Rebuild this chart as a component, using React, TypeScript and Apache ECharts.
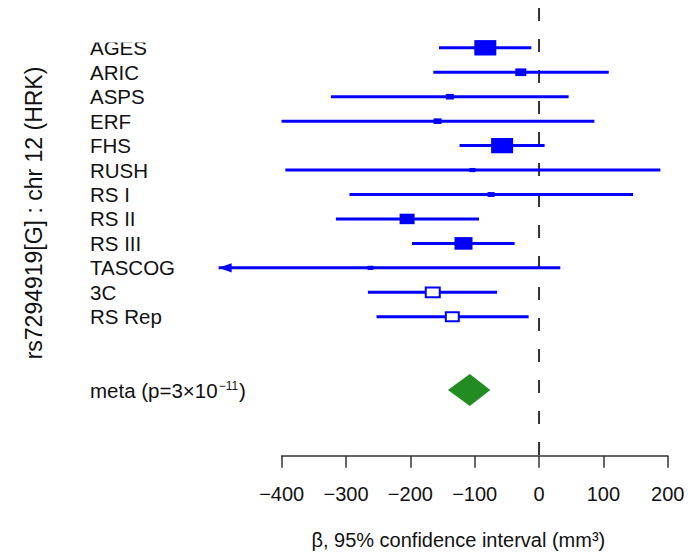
import React, { useEffect, useRef } from 'react';
import * as echarts from 'echarts';

// ---- data ----
const studies = ['AGES', 'ARIC', 'ASPS', 'ERF', 'FHS', 'RUSH', 'RS I', 'RS II', 'RS III', 'TASCOG', '3C', 'RS Rep'];
const estimates = [-83.5, -28.3, -138.7, -157.7, -57.4, -103.4, -74.5, -205.1, -117.4, -262, -165.2, -134.8];
const lowerCI = [-155.5, -164.3, -323.5, -400.3, -123.5, -394.3, -294.7, -315.7, -197.5, -498, -266, -252.6];
const upperCI = [-12, 108.4, 46, 86, 8.7, 188.6, 146.2, -93.3, -38, 33.1, -65.3, -16.2];
const boxWeights = [22, 11, 8, 8, 22, 6, 7, 15, 18, 6, 14, 13];
const replication = [false, false, false, false, false, false, false, false, false, false, true, true];
const clippedLow = [false, false, false, false, false, false, false, false, false, true, false, false];
const metaEstimate = -107.6;
const metaLower = -141.6;
const metaUpper = -75.7;
const metaRow = 14;
const xTicks = [-400, -300, -200, -100, 0, 100, 200];

const FONT = '"Liberation Sans", Arial, Helvetica, sans-serif';
const BLUE = '#0000ff';

export default function App() {
  const ref = useRef<HTMLDivElement>(null);

  useEffect(() => {
    const chart = echarts.init(ref.current!, null, { renderer: 'svg' });
    const studyRows = studies.map((_, i) => i);
    const studyData = studies.map((_, i) => [
      studyRows[i], estimates[i], lowerCI[i], upperCI[i], boxWeights[i],
      replication[i] ? 1 : 0, clippedLow[i] ? 1 : 0,
    ]);
    const yTop = -1.628;
    const yBottom = 16.683;

    const renderStudy = (_p: any, api: any) => {
      const row = api.value(0);
      const [xe, y] = api.coord([api.value(1), row]);
      const [xl] = api.coord([api.value(2), row]);
      const [xh] = api.coord([api.value(3), row]);
      const bw = api.value(4);
      const bh = bw * 0.7;
      const open = api.value(5) === 1;
      const arrow = api.value(6) === 1;
      const children: any[] = [
        { type: 'line', shape: { x1: xl, y1: y, x2: xh, y2: y }, style: { stroke: BLUE, lineWidth: 3 } },
      ];
      if (arrow) {
        children.push({
          type: 'polygon',
          shape: { points: [[xl, y], [xl + 13, y - 4.7], [xl + 13, y + 4.7]] },
          style: { fill: BLUE },
        });
      }
      children.push({
        type: 'rect',
        shape: { x: xe - bw / 2, y: y - bh / 2, width: bw, height: bh },
        style: open ? { fill: '#ffffff', stroke: BLUE, lineWidth: 2 } : { fill: BLUE },
      });
      return { type: 'group', children };
    };

    const renderMeta = (_p: any, api: any) => {
      const row = api.value(0);
      const [xe, y] = api.coord([api.value(1), row]);
      const [xl] = api.coord([api.value(2), row]);
      const [xh] = api.coord([api.value(3), row]);
      const h = 16;
      return {
        type: 'polygon',
        shape: { points: [[xl, y], [xe, y - h], [xh, y], [xe, y + h]] },
        style: { fill: '#228b22' },
      };
    };

    const renderZero = (_p: any, api: any) => {
      const a = api.coord([api.value(0), api.value(1)]);
      const b = api.coord([api.value(0), api.value(2)]);
      return {
        type: 'line',
        shape: { x1: a[0], y1: a[1], x2: b[0], y2: b[1] },
        style: { stroke: '#333333', lineWidth: 2, lineDash: [13, 18] },
      };
    };

    const option: any = {
      animation: false,
      backgroundColor: '#ffffff',
      textStyle: { fontFamily: FONT },
      grid: { left: 281.7, right: 32.3, top: 8, bottom: 100.3, containLabel: false, outerBoundsMode: 'none' },
      xAxis: {
        type: 'value',
        position: 'bottom',
        min: xTicks[0],
        max: xTicks[xTicks.length - 1],
        interval: 100,
        splitLine: { show: false },
        axisLine: { show: true, onZero: false, lineStyle: { color: '#333333', width: 1.5 } },
        axisTick: { show: true, length: 12, lineStyle: { color: '#333333', width: 1.5 } },
        axisLabel: {
          margin: 28,
          fontSize: 20,
          fontFamily: FONT,
          color: '#111111',
          formatter: (v: number) => (v < 0 ? '\u2212' + Math.abs(v) : String(v)),
        },
      },
      yAxis: {
        type: 'value',
        inverse: true,
        min: yTop,
        max: yBottom,
        splitLine: { show: false },
        axisLine: { show: false, onZero: false },
        axisTick: { show: false },
        axisLabel: {
          customValues: [...studyRows, metaRow],
          align: 'left',
          margin: 281.7 - 90,
          fontSize: 20.5,
          fontFamily: FONT,
          color: '#111111',
          formatter: (v: number) => (v === metaRow ? 'meta (p=3\u00d710{sup|\u221211})' : studies[v]),
          rich: {
            sup: { fontSize: 12, fontFamily: FONT, color: '#111111', verticalAlign: 'top', padding: [0, 1, 0, 1] },
          },
        },
      },
      graphic: [
        { type: 'rect', z: 100, shape: { x: 84, y: 0, width: 120, height: 42.5 }, style: { fill: '#ffffff' } },
        {
          type: 'text', x: 34, y: 213, rotation: Math.PI / 2,
          style: { text: 'rs7294919[G] : chr 12 (HRK)', fontSize: 23, fontFamily: FONT, fill: '#111111', align: 'center', verticalAlign: 'middle' },
        },
        {
          type: 'text', x: 458.3, y: 540,
          style: { text: '\u03b2, 95% confidence interval (mm\u00b3)', fontSize: 20, fontFamily: FONT, fill: '#111111', align: 'center', verticalAlign: 'middle' },
        },
      ],
      series: [
        {
          type: 'custom', name: 'zero', clip: false, z: 1, silent: true,
          encode: { x: 0, y: [1, 2] },
          data: [[0, yTop, yBottom]],
          renderItem: renderZero,
        },
        {
          type: 'custom', name: 'studies', clip: false, z: 2,
          encode: { x: [1, 2, 3], y: 0 },
          data: studyData,
          renderItem: renderStudy,
        },
        {
          type: 'custom', name: 'meta', clip: false, z: 2,
          encode: { x: [1, 2, 3], y: 0 },
          data: [[metaRow, metaEstimate, metaLower, metaUpper]],
          renderItem: renderMeta,
        },
      ],
    };
    chart.setOption(option);
    return () => chart.dispose();
  }, []);

  return <div ref={ref} style={{ position: 'fixed', left: 0, top: 0, width: 700, height: 556 }} />;
}
